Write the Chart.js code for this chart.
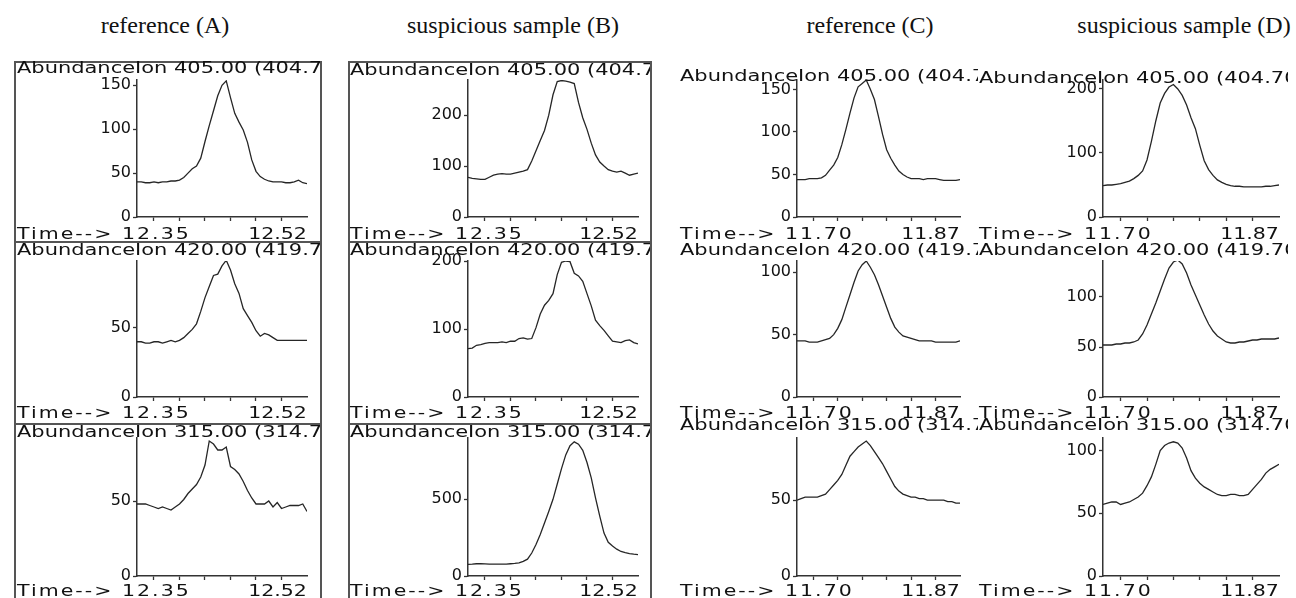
<!DOCTYPE html>
<html>
<head>
<meta charset="utf-8">
<script src="https://cdn.jsdelivr.net/npm/chart.js@4.4.0/dist/chart.umd.min.js"></script>
<style>
  html, body { margin: 0; padding: 0; background: #fff; }
  body { width: 1296px; height: 598px; position: relative; overflow: hidden; font-family: "DejaVu Sans", sans-serif; color: #111; }
  canvas { position: absolute; }
  .hdr { position: absolute; top: 12px; font: 24px "Liberation Serif", serif; color: #111; transform: translateX(-50%); white-space: nowrap; }
  .frame { position: absolute; border: 2px solid #555; box-sizing: border-box; }
  .clip { position: absolute; overflow: hidden; white-space: nowrap; height: 20px; line-height: 20px; z-index: 2; }
  .clip span { display: inline-block; font-size: 16px; transform: scaleX(1.31); transform-origin: left center; }
  .txt { position: absolute; white-space: nowrap; font-size: 16px; line-height: 20px; z-index: 2; }
</style>
</head>
<body>
<script>
// retention times (min)
var timesAB = [ 12.350, 12.355, 12.360, 12.365, 12.370, 12.375, 12.380, 12.385, 12.390, 12.395, 12.400,
                12.405, 12.410, 12.415, 12.420, 12.425, 12.430, 12.435, 12.440, 12.445, 12.450,
                12.455, 12.460, 12.465, 12.470, 12.475, 12.480, 12.485, 12.490, 12.495, 12.500,
                12.505, 12.510, 12.515, 12.520, 12.525, 12.530, 12.535, 12.540, 12.545, 12.550 ];
var timesCD = [ 11.700, 11.705, 11.710, 11.715, 11.720, 11.725, 11.730, 11.735, 11.740, 11.745, 11.750,
                11.755, 11.760, 11.765, 11.770, 11.775, 11.780, 11.785, 11.790, 11.795, 11.800,
                11.805, 11.810, 11.815, 11.820, 11.825, 11.830, 11.835, 11.840, 11.845, 11.850,
                11.855, 11.860, 11.865, 11.870, 11.875, 11.880, 11.885, 11.890, 11.895, 11.900 ];
var tickTimesAB = [ 12.37, 12.40, 12.43, 12.46, 12.49, 12.52 ];
var tickTimesCD = [ 11.72, 11.75, 11.78, 11.81, 11.84, 11.87 ];

// abundances, reference (A)
var a405 = [ 40, 40, 39, 39, 40, 39, 40, 40, 41, 41, 42, 45, 50, 55, 58, 67, 86, 104, 121, 138, 150,
             155, 136, 118, 108, 99, 85, 65, 52, 46, 43, 41, 40, 40, 40, 39, 39, 40, 42, 39, 38 ];
var a420 = [ 40, 40, 39, 39, 40, 40, 39, 40, 41, 40, 41, 43, 46, 49, 53, 62, 72, 80, 88, 89, 95,
             99, 92, 82, 75, 64, 59, 54, 48, 44, 46, 45, 43, 41, 41, 41, 41, 41, 41, 41, 41 ];
var a315 = [ 48, 48, 48, 47, 46, 45, 46, 45, 44, 46, 48, 51, 55, 58, 61, 66, 74, 90, 88, 84, 84,
             86, 73, 71, 68, 63, 57, 52, 48, 48, 48, 50, 46, 49, 45, 46, 47, 47, 47, 48, 43 ];
// suspicious sample (B)
var b405 = [ 78, 76, 75, 74, 74, 78, 82, 84, 85, 84, 84, 86, 88, 90, 93, 110, 130, 150, 170, 200, 240,
             266, 268, 267, 265, 262, 225, 195, 172, 145, 122, 108, 100, 93, 90, 88, 90, 86, 82, 84, 86 ];
var b420 = [ 71, 72, 76, 77, 79, 80, 80, 80, 81, 80, 82, 82, 86, 87, 85, 86, 102, 122, 135, 142, 152,
             180, 198, 200, 199, 182, 178, 170, 152, 134, 113, 105, 98, 90, 82, 81, 80, 83, 84, 80, 78 ];
var b315 = [ 76, 77, 80, 80, 79, 78, 77, 77, 77, 78, 80, 82, 85, 95, 110, 150, 205, 270, 345, 420, 500,
             600, 700, 790, 850, 875, 860, 820, 740, 640, 510, 390, 280, 220, 195, 175, 160, 152, 146, 142, 140 ];
// reference (C)
var c405 = [ 44, 44, 44, 45, 45, 45, 46, 49, 55, 61, 70, 85, 103, 122, 140, 153, 157, 161, 150, 138, 118,
             97, 79, 69, 61, 54, 50, 47, 45, 45, 45, 44, 45, 45, 45, 44, 43, 43, 43, 43, 44 ];
var c420 = [ 45, 45, 45, 44, 44, 44, 45, 46, 47, 50, 55, 62, 72, 82, 92, 101, 106, 109, 104, 98, 90,
             81, 72, 63, 56, 52, 49, 48, 47, 46, 45, 45, 45, 45, 44, 44, 44, 44, 44, 44, 45 ];
var c315 = [ 50, 51, 52, 52, 52, 52, 53, 54, 57, 60, 63, 67, 73, 79, 82, 85, 87, 89, 86, 82, 78,
             74, 69, 64, 59, 56, 54, 53, 52, 52, 51, 51, 50, 50, 50, 50, 50, 49, 49, 48, 48 ];
// suspicious sample (D)
var d405 = [ 49, 50, 50, 51, 52, 54, 56, 60, 65, 72, 89, 118, 150, 178, 193, 203, 207, 200, 190, 175, 155,
             138, 112, 88, 74, 65, 58, 54, 51, 49, 48, 48, 47, 47, 47, 47, 47, 48, 48, 49, 50 ];
var d420 = [ 52, 52, 52, 53, 53, 54, 54, 55, 57, 63, 72, 83, 94, 106, 118, 129, 135, 137, 133, 124, 112,
             102, 92, 82, 73, 66, 61, 58, 55, 54, 54, 55, 55, 56, 57, 57, 58, 58, 58, 58, 59 ];
var d315 = [ 57, 58, 59, 59, 57, 58, 59, 61, 63, 66, 72, 79, 89, 100, 104, 106, 107, 106, 102, 94, 84,
             78, 74, 71, 69, 67, 65, 64, 64, 65, 65, 64, 64, 65, 69, 73, 77, 82, 85, 87, 89 ];

var headers = [ "reference (A)", "suspicious sample (B)", "reference (C)", "suspicious sample (D)" ];
var ionTitles = [ "AbundanceIon 405.00 (404.70 to 405.70)", "AbundanceIon 420.00 (419.70 to 420.70)", "AbundanceIon 315.00 (314.70 to 315.70)" ];
var startLabels = [ "12.35", "12.35", "11.70", "11.70" ];
var endLabels = [ "12.52", "12.52", "11.87", "11.87" ];

// layout
var headerX = [ 165, 513, 870, 1184 ];
var axisX = [ 137, 468, 797, 1103 ];
var plotRight = [ 307, 638, 960, 1279 ];
var textLeft = [ 17, 350, 680, 979 ];
var clipRight = [ 320, 650, 978, 1288 ];
var plotTop = [ 80, 261, 438 ];
var zeroY = [ 217, 397, 576 ];
var titleY = [ [ 68, 250, 432 ], [ 70, 250, 432 ], [ 76, 250, 425 ], [ 78, 250, 425 ] ];
var timeY = [ 234, 413, 591 ];

function addDiv( cls, css, html ) {
    var d = document.createElement( "div" );
    d.className = cls;
    d.style.cssText = css;
    d.innerHTML = html;
    document.body.appendChild( d );
    return d;
}

function panel( col, row, times, vals, yMax, yStep, tickTimes ) {
    var left = axisX[ col ] - 60;
    var top = plotTop[ row ] - 12;
    var cv = document.createElement( "canvas" );
    cv.width = plotRight[ col ] - left + 2;
    cv.height = zeroY[ row ] - plotTop[ row ] + 24;
    cv.style.left = left + "px";
    cv.style.top = top + "px";
    document.body.appendChild( cv );
    new Chart( cv.getContext( "2d" ), {
        type: "line",
        data: {
            datasets: [ {
                data: times.map( function ( t, i ) { return { x: t, y: vals[ i ] }; } ),
                borderColor: "#262626",
                borderWidth: 1.3,
                pointRadius: 0,
                tension: 0,
                fill: false
            } ]
        },
        options: {
            responsive: false,
            animation: false,
            events: [],
            layout: { padding: { top: 12, right: 2, left: 0, bottom: 0 } },
            plugins: { legend: { display: false }, tooltip: { enabled: false } },
            scales: {
                x: {
                    type: "linear",
                    min: times[ 0 ],
                    max: times[ times.length - 1 ],
                    afterBuildTicks: function ( s ) { s.ticks = tickTimes.map( function ( v ) { return { value: v }; } ); },
                    afterFit: function ( s ) { s.height = 12; },
                    ticks: { autoSkip: false, maxRotation: 0, callback: function () { return ""; } },
                    grid: { drawOnChartArea: false, tickLength: 4, tickColor: "#333", tickWidth: 1.3 },
                    border: { color: "#333", width: 1.5 }
                },
                y: {
                    min: 0,
                    max: yMax,
                    afterBuildTicks: function ( s ) {
                        var t = [];
                        for ( var v = 0; v <= yMax; v += yStep ) t.push( { value: v } );
                        s.ticks = t;
                    },
                    afterFit: function ( s ) { s.width = 60; },
                    ticks: { color: "#111", padding: 2, font: { family: "DejaVu Sans", size: 16 } },
                    grid: { drawOnChartArea: false, tickLength: 4, tickColor: "#333", tickWidth: 1.3 },
                    border: { color: "#333", width: 1.5 }
                }
            }
        }
    } );
}

// frames round the (A) and (B) panels
[ [ 14, 322 ], [ 348, 652 ] ].forEach( function ( f ) {
    addDiv( "frame", "left:" + f[ 0 ] + "px;top:61px;width:" + ( f[ 1 ] - f[ 0 ] ) + "px;height:182px;", "" );
    addDiv( "frame", "left:" + f[ 0 ] + "px;top:241px;width:" + ( f[ 1 ] - f[ 0 ] ) + "px;height:184px;", "" );
    addDiv( "frame", "left:" + f[ 0 ] + "px;top:423px;width:" + ( f[ 1 ] - f[ 0 ] ) + "px;height:190px;", "" );
} );

panel( 0, 0, timesAB, a405, 156, 50, tickTimesAB );
panel( 0, 1, timesAB, a420, 98.5, 50, tickTimesAB );
panel( 0, 2, timesAB, a315, 92, 50, tickTimesAB );
panel( 1, 0, timesAB, b405, 269, 100, tickTimesAB );
panel( 1, 1, timesAB, b420, 200, 100, tickTimesAB );
panel( 1, 2, timesAB, b315, 900, 500, tickTimesAB );
panel( 2, 0, timesCD, c405, 161, 50, tickTimesCD );
panel( 2, 1, timesCD, c420, 109, 50, tickTimesCD );
panel( 2, 2, timesCD, c315, 91, 50, tickTimesCD );
panel( 3, 0, timesCD, d405, 214, 100, tickTimesCD );
panel( 3, 1, timesCD, d420, 136, 50, tickTimesCD );
panel( 3, 2, timesCD, d315, 110, 50, tickTimesCD );

headers.forEach( function ( h, c ) {
    addDiv( "hdr", "left:" + headerX[ c ] + "px;", h );
    for ( var r = 0; r < 3; r++ ) {
        addDiv( "clip", "left:" + textLeft[ c ] + "px;top:" + ( titleY[ c ][ r ] - 10 ) + "px;width:" + ( clipRight[ c ] - textLeft[ c ] ) + "px;",
            "<span>" + ionTitles[ r ] + "</span>" );
        addDiv( "txt", "left:" + textLeft[ c ] + "px;top:" + ( timeY[ r ] - 10 ) + "px;letter-spacing:1.6px;transform:scaleX(1.28);transform-origin:left center;",
            "Time--&gt; " + startLabels[ c ] );
        addDiv( "txt", "right:" + ( 1296 - plotRight[ c ] ) + "px;top:" + ( timeY[ r ] - 10 ) + "px;transform:scaleX(1.28);transform-origin:right center;",
            endLabels[ c ] );
    }
} );
</script>
</body>
</html>
